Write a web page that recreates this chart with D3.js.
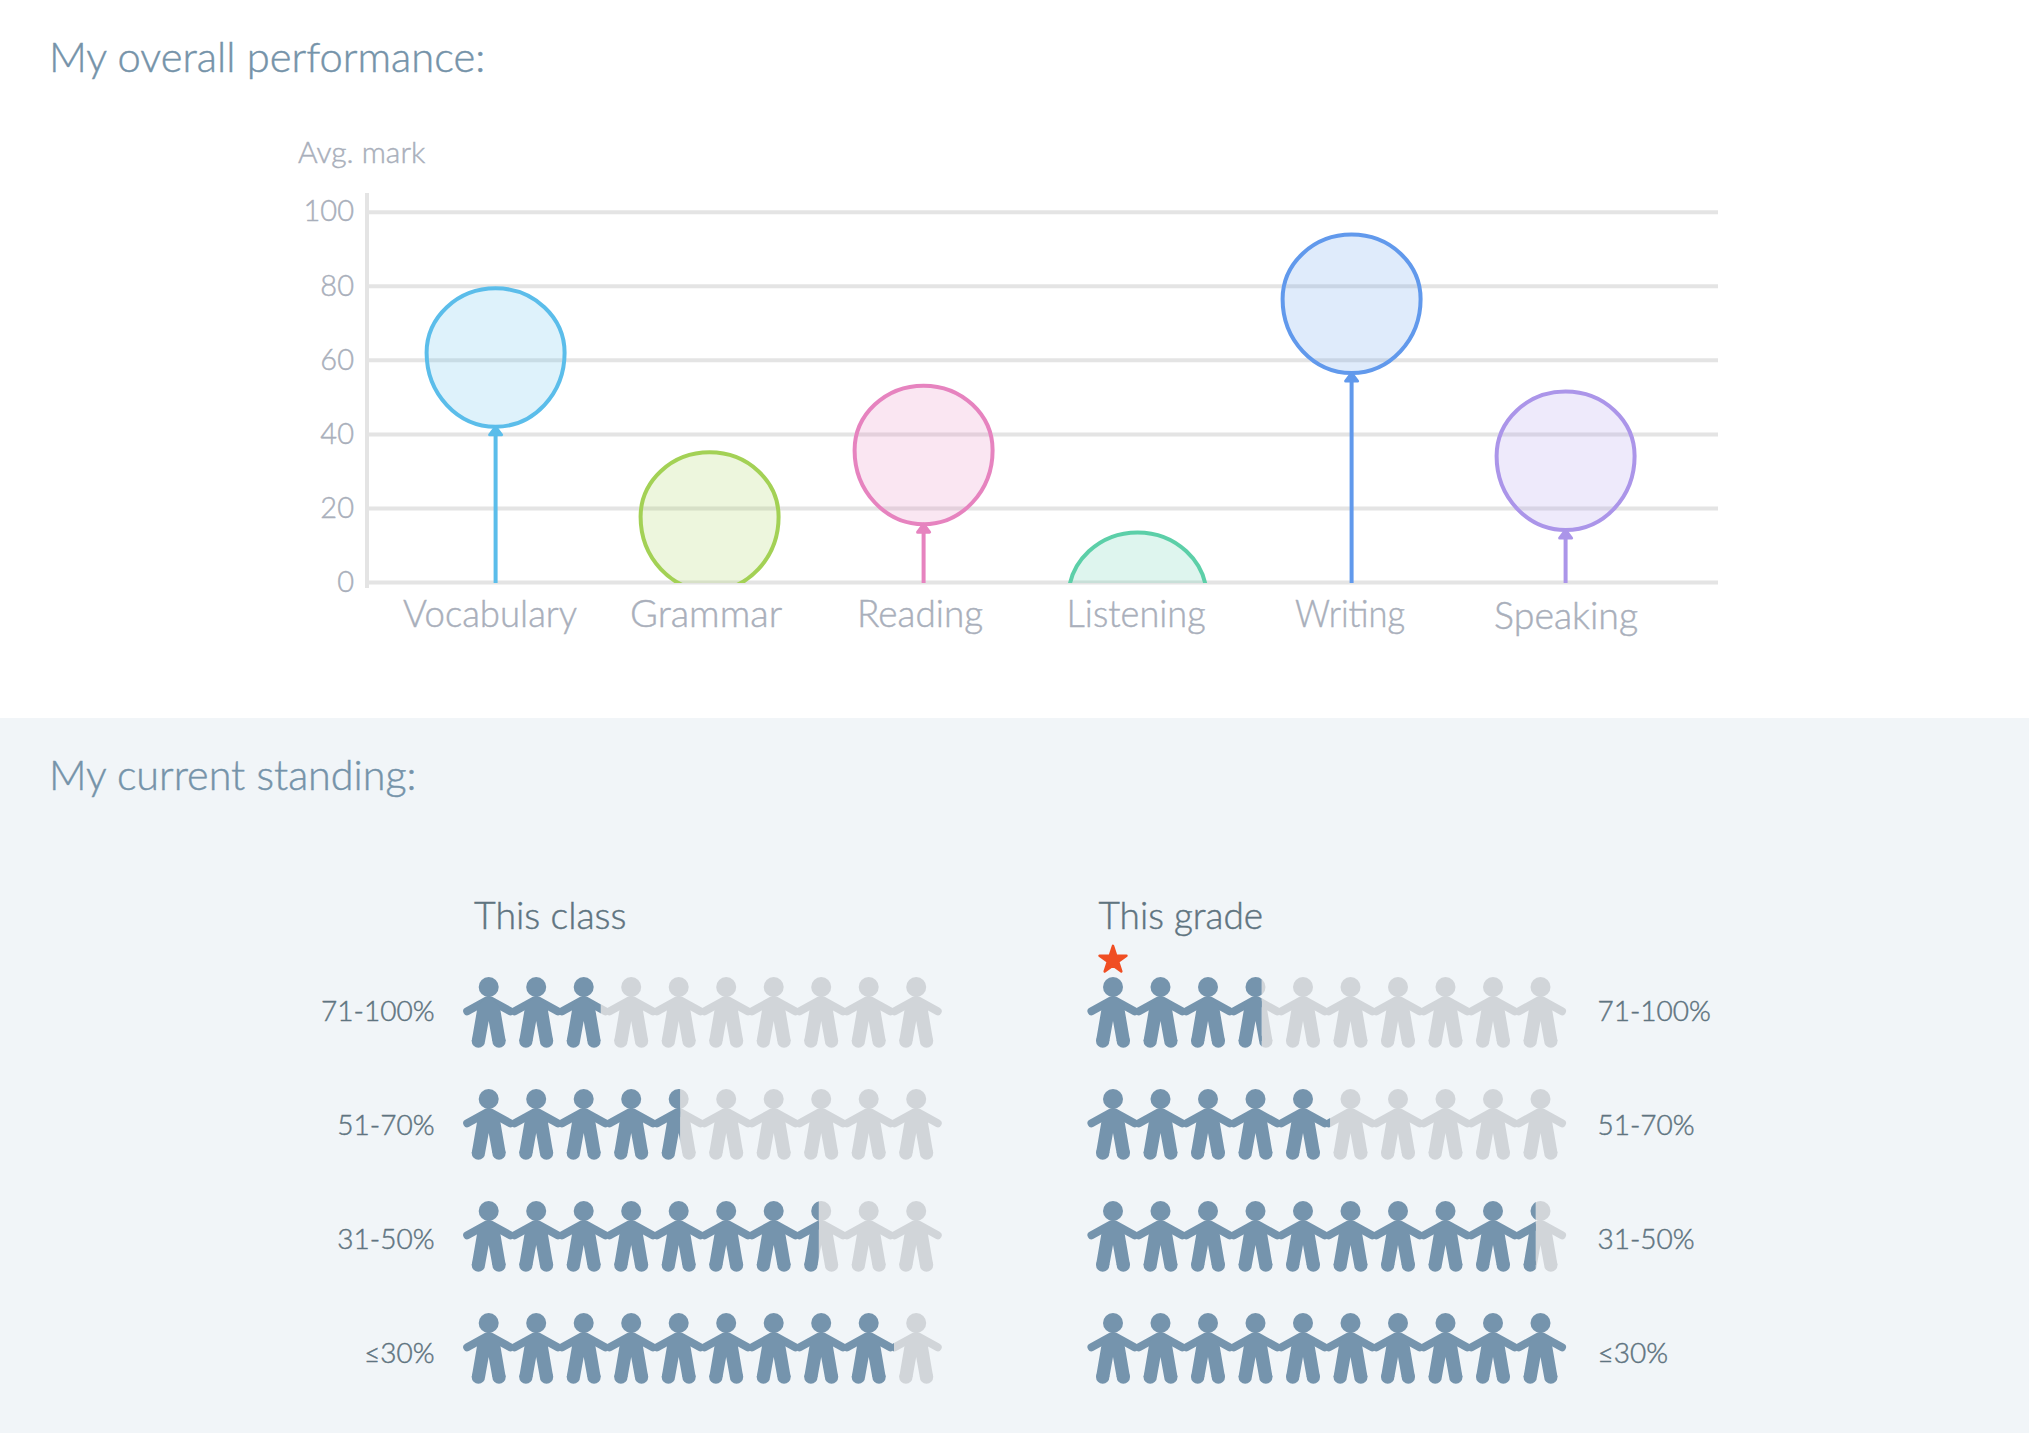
<!DOCTYPE html>
<html>
<head>
<meta charset="utf-8">
<script src="https://cdn.jsdelivr.net/npm/d3@7/dist/d3.min.js"></script>
<style>
html,body{margin:0;padding:0;background:#fff;}
svg{display:block;}
text{font-family:"Lato",sans-serif;font-weight:300;paint-order:stroke;stroke-width:.45px;}
</style>
</head>
<body>
<svg id="chart" width="2029" height="1433"></svg>
<script>
const subjects = ["Vocabulary","Grammar","Reading","Listening","Writing","Speaking"];
const balloonMarks = [61.9,17.6,35.6,-4,76.4,34];
const balloonStroke = ["#5bbdea","#a3d155","#e683bf","#5ccfa8","#6199ec","#ab95e9"];
const markTicks = [0,20,40,60,80,100];
const bands = ["71-100%","51-70%","31-50%","≤30%"];
const classPeople = [2.86,4.53,7.45,9.03];
const gradePeople = [3.63,5.07,9.4,10];

const svg = d3.select("#chart");
svg.append("rect").attr("x",0).attr("y",718).attr("width",2029).attr("height",715).attr("fill","#f1f5f8");

const title = (t,yy,fs)=>svg.append("text").attr("x",49).attr("y",yy).attr("font-size",fs)
  .attr("fill","#7593a9").attr("stroke","#7593a9").text(t);
title("My overall performance:",71.5,41.7);
title("My current standing:",789.5,41.3);

// Balloon chart
const y = d3.scaleLinear().domain([0,100]).range([582,211.7]);
const x = d3.scalePoint().domain(subjects).range([495.6,1565.6]);
const gridRight = 1718, axisX = 368;
const plot = svg.append("g");

const yAxis = d3.axisLeft(y).tickValues(markTicks).tickSizeInner(axisX-gridRight).tickSizeOuter(0).tickPadding(0);
const yG = plot.append("g").attr("transform",`translate(${axisX},0)`).call(yAxis);
yG.select(".domain").remove();
yG.selectAll("line").attr("stroke","#e4e4e4").attr("stroke-width",4);
yG.selectAll("text").attr("x",-14).attr("dy","0.32em").attr("font-size",29).attr("font-weight",300).attr("font-family","Lato")
  .attr("fill","#a9afbb").attr("stroke","#a9afbb");
plot.append("line").attr("x1",axisX-1).attr("x2",axisX-1).attr("y1",193).attr("y2",588).attr("stroke","#e4e4e4").attr("stroke-width",4);

svg.append("text").attr("x",298).attr("y",163).attr("font-size",30).attr("fill","#a9afbb").attr("stroke","#a9afbb").text("Avg. mark");

svg.append("defs").append("clipPath").attr("id","plotClip").append("rect")
  .attr("x",axisX).attr("y",150).attr("width",gridRight-axisX).attr("height",582-150+1);

// Balloon outline: slightly egg-shaped, widest point sits at the mark
const rx = 69, ryTop = 64.5, ryBottom = 74;
const balloonPath = c => `M${c.x-rx},${c.y}A${rx},${ryTop} 0 0 1 ${c.x+rx},${c.y}A${rx},${ryBottom} 0 0 1 ${c.x-rx},${c.y}Z`;
const bG = plot.append("g").attr("clip-path","url(#plotClip)").selectAll("g").data(subjects).join("g");
bG.append("line")
  .attr("x1",d=>x(d)).attr("x2",d=>x(d))
  .attr("y1",(d,i)=>y(balloonMarks[i])+ryBottom).attr("y2",y(0)+2)
  .attr("stroke",(d,i)=>balloonStroke[i]).attr("stroke-width",4);
bG.append("path")
  .attr("d",(d,i)=>{const c=x(d),t=y(balloonMarks[i])+ryBottom;return `M${c},${t}L${c+6},${t+8}L${c-6},${t+8}Z`;})
  .attr("fill",(d,i)=>balloonStroke[i]).attr("stroke",(d,i)=>balloonStroke[i]).attr("stroke-width",3).attr("stroke-linejoin","round");
bG.append("path")
  .attr("d",(d,i)=>balloonPath({x:x(d),y:y(balloonMarks[i])}))
  .attr("fill",(d,i)=>balloonStroke[i]).attr("fill-opacity",.2)
  .attr("stroke",(d,i)=>balloonStroke[i]).attr("stroke-width",4);

const labelDx = [-6,-4,-4,-2,-2,0];
const labelDy = [0,0,0,0,0,2];
const labelLen = [174,152,126,139,110,144];
const xAxis = d3.axisBottom(x).tickSize(0).tickPadding(0);
const xG = plot.append("g").attr("transform","translate(0,582)").call(xAxis);
xG.select(".domain").remove();
xG.selectAll("text").attr("dy",null)
  .attr("x",(d,i)=>labelDx[i]).attr("y",(d,i)=>45+labelDy[i])
  .attr("textLength",(d,i)=>labelLen[i]).attr("lengthAdjust","spacingAndGlyphs")
  .attr("font-size",37).attr("font-weight",300).attr("font-family","Lato").attr("fill","#a9afbb").attr("stroke","#a9afbb");

// People rows
const rowY = d3.scalePoint().domain(bands).range([987,1323]);
const labelY = d3.scalePoint().domain(bands).range([1021,1362.5]);
const textCol = "#5f7480";

function person(g){
  const col = g.attr("data-col");
  g.append("circle").attr("cx",0).attr("cy",0).attr("r",10).attr("fill",col);
  [-1,1].forEach(s=>{
    g.append("line").attr("x1",s*2).attr("y1",13.5).attr("x2",s*21.5).attr("y2",24.3)
      .attr("stroke",col).attr("stroke-width",8).attr("stroke-linecap","round");
    g.append("circle").attr("cx",s*10.3).attr("cy",54).attr("r",6.7).attr("fill",col);
  });
  g.append("path").attr("d","M0,8L11,19L17,54L3.6,54L0,34L-3.6,54L-17,54L-11,19Z").attr("fill",col);
}

const defs = svg.select("defs");
const tens = d3.range(10);
function panel(id, firstCx, values){
  const pitch = d3.scaleLinear().domain([0,10]).range([firstCx-23.75,firstCx-23.75+475]);
  const pad = 3;
  bands.forEach((b,r)=>{
    const row = svg.append("g");
    const cy = rowY(b);
    const edge = pitch(values[r]);
    const left = pitch(0)-pad, right = pitch(10)+pad;
    const extent = values[r]>=10 ? right : edge;
    defs.append("clipPath").attr("id",`${id}-on-${r}`).append("rect")
      .attr("x",left).attr("y",cy-15).attr("width",extent-left).attr("height",90);
    defs.append("clipPath").attr("id",`${id}-off-${r}`).append("rect")
      .attr("x",extent).attr("y",cy-15).attr("width",Math.max(0,right-extent)).attr("height",90);
    [["off","#d1d5d9"],["on","#7594ad"]].forEach(([k,col])=>{
      const layer = row.append("g").attr("clip-path",`url(#${id}-${k}-${r})`);
      tens.forEach(t=>{
        const g = layer.append("g").attr("data-col",col)
          .attr("transform",`translate(${pitch(t)+23.75},${cy})`);
        person(g);
      });
    });
  });
}
panel("cls",488.7,classPeople);
panel("grd",1113,gradePeople);

svg.append("text").attr("x",474).attr("y",929).attr("font-size",37.5).attr("fill",textCol).attr("stroke",textCol).text("This class");
svg.append("text").attr("x",1098.5).attr("y",929).attr("font-size",37).attr("fill",textCol).attr("stroke",textCol).text("This grade");

svg.append("g").selectAll("text").data(bands).join("text")
  .attr("x",434.5).attr("y",d=>labelY(d)).attr("text-anchor","end").attr("font-size",28).attr("fill",textCol).attr("stroke",textCol).text(d=>d);
svg.append("g").selectAll("text").data(bands).join("text")
  .attr("x",1597.5).attr("y",d=>labelY(d)).attr("font-size",28).attr("fill",textCol).attr("stroke",textCol).text(d=>d);

// Star marks where this student stands
svg.append("path").attr("d",d3.symbol(d3.symbolStar,225)()).attr("transform","translate(1113,960)")
  .attr("fill","#f04e23").attr("stroke","#f04e23").attr("stroke-width",2.5).attr("stroke-linejoin","round");
</script>
</body>
</html>
